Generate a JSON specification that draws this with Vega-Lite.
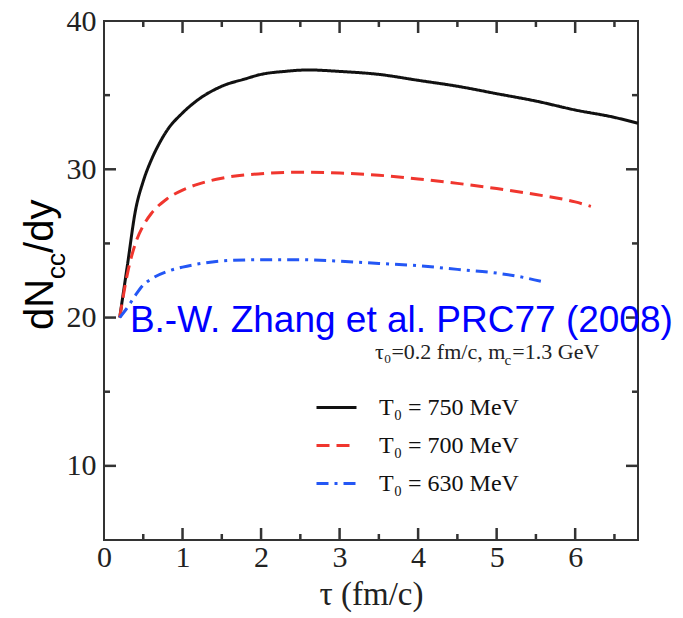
{
  "$schema": "https://vega.github.io/schema/vega-lite/v6.json",
  "autosize": {"type": "none"},
  "width": 534,
  "height": 519,
  "padding": {"left": 104, "top": 21, "right": 45, "bottom": 78},
  "background": "white",
  "config": {
    "view": {"stroke": "#333333", "strokeWidth": 2},
    "axis": {"grid": false}
  },
  "datasets": {
    "curves": [
      {"tau": 0.2, "dndy": 20.0, "series": "T₀ = 750 MeV"},
      {"tau": 0.3, "dndy": 23.6, "series": "T₀ = 750 MeV"},
      {"tau": 0.4, "dndy": 27.2, "series": "T₀ = 750 MeV"},
      {"tau": 0.5, "dndy": 29.2, "series": "T₀ = 750 MeV"},
      {"tau": 0.6, "dndy": 30.6, "series": "T₀ = 750 MeV"},
      {"tau": 0.7, "dndy": 31.7, "series": "T₀ = 750 MeV"},
      {"tau": 0.8, "dndy": 32.6, "series": "T₀ = 750 MeV"},
      {"tau": 1.0, "dndy": 33.8, "series": "T₀ = 750 MeV"},
      {"tau": 1.2, "dndy": 34.7, "series": "T₀ = 750 MeV"},
      {"tau": 1.5, "dndy": 35.6, "series": "T₀ = 750 MeV"},
      {"tau": 1.8, "dndy": 36.1, "series": "T₀ = 750 MeV"},
      {"tau": 2.0, "dndy": 36.4, "series": "T₀ = 750 MeV"},
      {"tau": 2.3, "dndy": 36.6, "series": "T₀ = 750 MeV"},
      {"tau": 2.6, "dndy": 36.7, "series": "T₀ = 750 MeV"},
      {"tau": 3.0, "dndy": 36.6, "series": "T₀ = 750 MeV"},
      {"tau": 3.5, "dndy": 36.4, "series": "T₀ = 750 MeV"},
      {"tau": 4.0, "dndy": 36.0, "series": "T₀ = 750 MeV"},
      {"tau": 4.5, "dndy": 35.6, "series": "T₀ = 750 MeV"},
      {"tau": 5.0, "dndy": 35.1, "series": "T₀ = 750 MeV"},
      {"tau": 5.5, "dndy": 34.6, "series": "T₀ = 750 MeV"},
      {"tau": 6.0, "dndy": 34.0, "series": "T₀ = 750 MeV"},
      {"tau": 6.5, "dndy": 33.5, "series": "T₀ = 750 MeV"},
      {"tau": 6.8, "dndy": 33.1, "series": "T₀ = 750 MeV"},
      {"tau": 0.2, "dndy": 20.0, "series": "T₀ = 700 MeV"},
      {"tau": 0.3, "dndy": 23.0, "series": "T₀ = 700 MeV"},
      {"tau": 0.4, "dndy": 25.0, "series": "T₀ = 700 MeV"},
      {"tau": 0.5, "dndy": 26.2, "series": "T₀ = 700 MeV"},
      {"tau": 0.6, "dndy": 27.0, "series": "T₀ = 700 MeV"},
      {"tau": 0.8, "dndy": 28.0, "series": "T₀ = 700 MeV"},
      {"tau": 1.0, "dndy": 28.6, "series": "T₀ = 700 MeV"},
      {"tau": 1.2, "dndy": 29.0, "series": "T₀ = 700 MeV"},
      {"tau": 1.5, "dndy": 29.4, "series": "T₀ = 700 MeV"},
      {"tau": 2.0, "dndy": 29.7, "series": "T₀ = 700 MeV"},
      {"tau": 2.5, "dndy": 29.8, "series": "T₀ = 700 MeV"},
      {"tau": 3.0, "dndy": 29.75, "series": "T₀ = 700 MeV"},
      {"tau": 3.5, "dndy": 29.6, "series": "T₀ = 700 MeV"},
      {"tau": 4.0, "dndy": 29.35, "series": "T₀ = 700 MeV"},
      {"tau": 4.5, "dndy": 29.05, "series": "T₀ = 700 MeV"},
      {"tau": 5.0, "dndy": 28.7, "series": "T₀ = 700 MeV"},
      {"tau": 5.5, "dndy": 28.3, "series": "T₀ = 700 MeV"},
      {"tau": 6.0, "dndy": 27.8, "series": "T₀ = 700 MeV"},
      {"tau": 6.2, "dndy": 27.5, "series": "T₀ = 700 MeV"},
      {"tau": 0.2, "dndy": 20.0, "series": "T₀ = 630 MeV"},
      {"tau": 0.3, "dndy": 20.7, "series": "T₀ = 630 MeV"},
      {"tau": 0.4, "dndy": 21.5, "series": "T₀ = 630 MeV"},
      {"tau": 0.5, "dndy": 22.2, "series": "T₀ = 630 MeV"},
      {"tau": 0.6, "dndy": 22.6, "series": "T₀ = 630 MeV"},
      {"tau": 0.8, "dndy": 23.1, "series": "T₀ = 630 MeV"},
      {"tau": 1.0, "dndy": 23.4, "series": "T₀ = 630 MeV"},
      {"tau": 1.3, "dndy": 23.7, "series": "T₀ = 630 MeV"},
      {"tau": 1.6, "dndy": 23.85, "series": "T₀ = 630 MeV"},
      {"tau": 2.0, "dndy": 23.9, "series": "T₀ = 630 MeV"},
      {"tau": 2.5, "dndy": 23.9, "series": "T₀ = 630 MeV"},
      {"tau": 3.0, "dndy": 23.8, "series": "T₀ = 630 MeV"},
      {"tau": 3.5, "dndy": 23.65, "series": "T₀ = 630 MeV"},
      {"tau": 4.0, "dndy": 23.5, "series": "T₀ = 630 MeV"},
      {"tau": 4.5, "dndy": 23.25, "series": "T₀ = 630 MeV"},
      {"tau": 5.0, "dndy": 23.0, "series": "T₀ = 630 MeV"},
      {"tau": 5.3, "dndy": 22.75, "series": "T₀ = 630 MeV"},
      {"tau": 5.6, "dndy": 22.4, "series": "T₀ = 630 MeV"}
    ],
    "xmajor": [{"v": 1}, {"v": 2}, {"v": 3}, {"v": 4}, {"v": 5}, {"v": 6}],
    "xminor": [{"v": 0.5}, {"v": 1.5}, {"v": 2.5}, {"v": 3.5}, {"v": 4.5}, {"v": 5.5}, {"v": 6.5}],
    "ymajor": [{"v": 10}, {"v": 20}, {"v": 30}],
    "yminor": [{"v": 15}, {"v": 25}, {"v": 35}]
  },
  "resolve": {"axis": {"x": "independent", "y": "independent"}},
  "layer": [
    {
      "data": {"name": "xmajor"},
      "mark": {"type": "rule", "strokeWidth": 2.5, "color": "#333333"},
      "encoding": {
        "x": {"field": "v", "type": "quantitative", "scale": {"domain": [0, 6.8], "nice": false, "zero": false},
          "axis": {"orient": "bottom", "values": [0, 1, 2, 3, 4, 5, 6], "ticks": false,
            "domain": false, "grid": false,
            "labelFont": "Liberation Serif", "labelFontSize": 30, "labelPadding": 2, "labelColor": "#222",
            "labelFlush": false, "labelOverlap": false,
            "title": "τ (fm/c)", "titleFont": "Liberation Serif", "titleFontSize": 33, "titleFontWeight": "normal",
            "titleColor": "#222", "titlePadding": 6}},
        "y": {"datum": 5, "type": "quantitative", "scale": {"domain": [5, 40], "nice": false, "zero": false},
          "axis": {"orient": "left", "values": [10, 20, 30, 40], "ticks": false,
            "domain": false, "grid": false,
            "labelFont": "Liberation Serif", "labelFontSize": 30, "labelPadding": 8, "labelColor": "#222",
            "labelFlush": false, "labelOverlap": false, "title": null}},
        "y2": {"datum": 5.81}
      }
    },
    {
      "data": {"name": "xminor"},
      "mark": {"type": "rule", "strokeWidth": 2.5, "color": "#333333"},
      "encoding": {
        "x": {"field": "v", "type": "quantitative", "scale": {"domain": [0, 6.8], "nice": false, "zero": false}, "axis": null},
        "y": {"datum": 5, "type": "quantitative", "scale": {"domain": [5, 40], "nice": false, "zero": false}, "axis": null},
        "y2": {"datum": 5.405}
      }
    },
    {
      "data": {"name": "xmajor"},
      "mark": {"type": "rule", "strokeWidth": 2.5, "color": "#333333"},
      "encoding": {
        "x": {"field": "v", "type": "quantitative", "scale": {"domain": [0, 6.8], "nice": false, "zero": false}, "axis": null},
        "y": {"datum": 40, "type": "quantitative", "scale": {"domain": [5, 40], "nice": false, "zero": false}, "axis": null},
        "y2": {"datum": 39.19}
      }
    },
    {
      "data": {"name": "xminor"},
      "mark": {"type": "rule", "strokeWidth": 2.5, "color": "#333333"},
      "encoding": {
        "x": {"field": "v", "type": "quantitative", "scale": {"domain": [0, 6.8], "nice": false, "zero": false}, "axis": null},
        "y": {"datum": 40, "type": "quantitative", "scale": {"domain": [5, 40], "nice": false, "zero": false}, "axis": null},
        "y2": {"datum": 39.595}
      }
    },
    {
      "data": {"name": "ymajor"},
      "mark": {"type": "rule", "strokeWidth": 2.5, "color": "#333333"},
      "encoding": {
        "y": {"field": "v", "type": "quantitative", "scale": {"domain": [5, 40], "nice": false, "zero": false}, "axis": null},
        "x": {"datum": 0, "type": "quantitative", "scale": {"domain": [0, 6.8], "nice": false, "zero": false}, "axis": null},
        "x2": {"datum": 0.153}
      }
    },
    {
      "data": {"name": "yminor"},
      "mark": {"type": "rule", "strokeWidth": 2.5, "color": "#333333"},
      "encoding": {
        "y": {"field": "v", "type": "quantitative", "scale": {"domain": [5, 40], "nice": false, "zero": false}, "axis": null},
        "x": {"datum": 0, "type": "quantitative", "scale": {"domain": [0, 6.8], "nice": false, "zero": false}, "axis": null},
        "x2": {"datum": 0.0765}
      }
    },
    {
      "data": {"name": "ymajor"},
      "mark": {"type": "rule", "strokeWidth": 2.5, "color": "#333333"},
      "encoding": {
        "y": {"field": "v", "type": "quantitative", "scale": {"domain": [5, 40], "nice": false, "zero": false}, "axis": null},
        "x": {"datum": 6.8, "type": "quantitative", "scale": {"domain": [0, 6.8], "nice": false, "zero": false}, "axis": null},
        "x2": {"datum": 6.647}
      }
    },
    {
      "data": {"name": "yminor"},
      "mark": {"type": "rule", "strokeWidth": 2.5, "color": "#333333"},
      "encoding": {
        "y": {"field": "v", "type": "quantitative", "scale": {"domain": [5, 40], "nice": false, "zero": false}, "axis": null},
        "x": {"datum": 6.8, "type": "quantitative", "scale": {"domain": [0, 6.8], "nice": false, "zero": false}, "axis": null},
        "x2": {"datum": 6.7235}
      }
    },
    {
      "data": {"name": "curves"},
      "mark": {"type": "line", "interpolate": "monotone", "strokeWidth": 3},
      "encoding": {
        "x": {"field": "tau", "type": "quantitative", "scale": {"domain": [0, 6.8], "nice": false, "zero": false}, "axis": null},
        "y": {"field": "dndy", "type": "quantitative", "scale": {"domain": [5, 40], "nice": false, "zero": false}, "axis": null},
        "color": {"field": "series", "type": "nominal",
          "scale": {"domain": ["T₀ = 750 MeV", "T₀ = 700 MeV", "T₀ = 630 MeV"], "range": ["#111111", "#f0362e", "#2457f5"]},
          "legend": {"orient": "none", "legendX": 211, "legendY": 365, "title": null, "symbolType": "stroke",
            "symbolSize": 1600, "symbolStrokeWidth": 3, "labelFont": "Liberation Serif", "labelFontSize": 24,
            "labelColor": "#111", "labelOffset": 21, "rowPadding": 4, "padding": 0}},
        "strokeDash": {"field": "series", "type": "nominal",
          "scale": {"domain": ["T₀ = 750 MeV", "T₀ = 700 MeV", "T₀ = 630 MeV"], "range": [[1, 0], [13, 7], [12, 6, 3, 6]]},
          "legend": {"orient": "none", "legendX": 211, "legendY": 365, "title": null, "symbolType": "stroke",
            "symbolSize": 1600, "symbolStrokeWidth": 3, "labelFont": "Liberation Serif", "labelFontSize": 24,
            "labelColor": "#111", "labelOffset": 21, "rowPadding": 4, "padding": 0}}
      }
    },
    {
      "data": {"values": [{"x": 0.33, "y": 19.0, "t": "B.-W. Zhang et al. PRC77 (2008)"}]},
      "mark": {"type": "text", "font": "Liberation Sans", "fontSize": 37, "color": "#0000ff", "align": "left", "baseline": "alphabetic"},
      "encoding": {
        "x": {"field": "x", "type": "quantitative", "scale": {"domain": [0, 6.8], "nice": false, "zero": false}, "axis": null},
        "y": {"field": "y", "type": "quantitative", "scale": {"domain": [5, 40], "nice": false, "zero": false}, "axis": null},
        "text": {"field": "t"}
      }
    },
    {
      "data": {"values": [{"x": -0.65, "y": 19.16, "t": "dN"}, {"x": -0.65, "y": 24.36, "t": "/dy"}]},
      "mark": {"type": "text", "font": "Liberation Sans", "fontSize": 40, "color": "#000000", "align": "left", "baseline": "alphabetic", "angle": 270},
      "encoding": {
        "x": {"field": "x", "type": "quantitative", "scale": {"domain": [0, 6.8], "nice": false, "zero": false}, "axis": null},
        "y": {"field": "y", "type": "quantitative", "scale": {"domain": [5, 40], "nice": false, "zero": false}, "axis": null},
        "text": {"field": "t"}
      }
    },
    {
      "data": {"values": [{"x": -0.5, "y": 22.6, "t": "cc"}]},
      "mark": {"type": "text", "font": "Liberation Sans", "fontSize": 26, "color": "#000000", "align": "left", "baseline": "alphabetic", "angle": 270},
      "encoding": {
        "x": {"field": "x", "type": "quantitative", "scale": {"domain": [0, 6.8], "nice": false, "zero": false}, "axis": null},
        "y": {"field": "y", "type": "quantitative", "scale": {"domain": [5, 40], "nice": false, "zero": false}, "axis": null},
        "text": {"field": "t"}
      }
    },
    {
      "data": {"values": [{"x": 3.45, "y": 17.21, "t": "τ₀=0.2 fm/c, m"}, {"x": 5.2, "y": 17.21, "t": "=1.3 GeV"}]},
      "mark": {"type": "text", "font": "Liberation Serif", "fontSize": 22, "color": "#222", "align": "left", "baseline": "alphabetic"},
      "encoding": {
        "x": {"field": "x", "type": "quantitative", "scale": {"domain": [0, 6.8], "nice": false, "zero": false}, "axis": null},
        "y": {"field": "y", "type": "quantitative", "scale": {"domain": [5, 40], "nice": false, "zero": false}, "axis": null},
        "text": {"field": "t"}
      }
    },
    {
      "data": {"values": [{"x": 5.1, "y": 16.8, "t": "c"}]},
      "mark": {"type": "text", "font": "Liberation Serif", "fontSize": 15, "color": "#222", "align": "left", "baseline": "alphabetic"},
      "encoding": {
        "x": {"field": "x", "type": "quantitative", "scale": {"domain": [0, 6.8], "nice": false, "zero": false}, "axis": null},
        "y": {"field": "y", "type": "quantitative", "scale": {"domain": [5, 40], "nice": false, "zero": false}, "axis": null},
        "text": {"field": "t"}
      }
    }
  ]
}
